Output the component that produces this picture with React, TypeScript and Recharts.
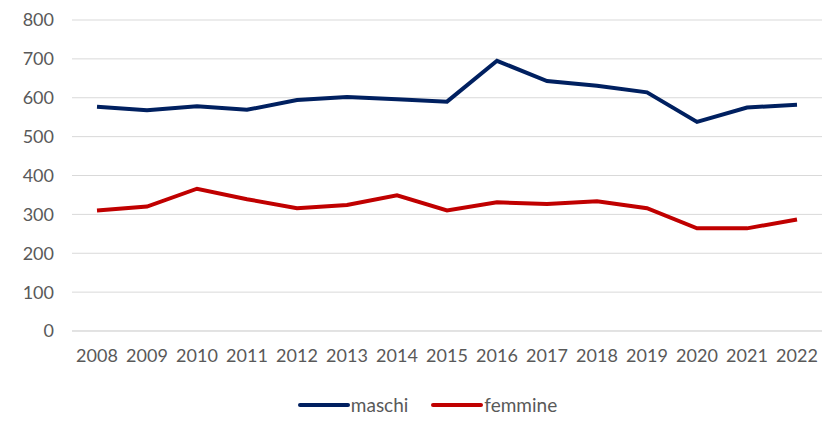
import { LineChart, Line, XAxis, YAxis, CartesianGrid, Legend } from "recharts";

const anni = ["2008", "2009", "2010", "2011", "2012", "2013", "2014", "2015", "2016", "2017", "2018", "2019", "2020", "2021", "2022"];
const maschi = [577, 568, 578, 569, 594, 602, 596, 590, 695, 643, 631, 614, 538, 575, 582];
const femmine = [310, 320, 366, 339, 316, 324, 349, 310, 331, 327, 334, 316, 264, 264, 287];
const yTicks = [0, 100, 200, 300, 400, 500, 600, 700, 800];
const serie = ["maschi", "femmine"];

const data = anni.map((anno, i) => ({ anno, maschi: maschi[i], femmine: femmine[i] }));

const FONT = "Lato, 'Open Sans', sans-serif";
const TEXT = "#595959";

function LegendBox({ payload }: any) {
  const items = [...(payload || [])].sort((a: any, b: any) => serie.indexOf(a.value) - serie.indexOf(b.value));
  return (
    <div style={{ display: "flex", justifyContent: "center", gap: 22, paddingTop: 18, paddingLeft: 32, fontFamily: FONT, fontSize: 19, color: TEXT }}>
      {items.map((p: any) => (
        <div key={p.value} style={{ display: "flex", alignItems: "center" }}>
          <svg width={54} height={8}>
            <line x1={3} y1={4} x2={51} y2={4} stroke={p.color} strokeWidth={4} strokeLinecap="round" />
          </svg>
          <span>{p.value}</span>
        </div>
      ))}
    </div>
  );
}

export default function App() {
  return (
    <div style={{ position: "absolute", left: 0, top: 0, background: "#fff" }}>
      <LineChart width={832} height={422} data={data} margin={{ top: 20, right: 10, left: 0, bottom: 8 }}>
        <CartesianGrid vertical={false} stroke="#d9d9d9" strokeWidth={1} />
        <XAxis
          dataKey="anno"
          axisLine={{ stroke: "#d9d9d9" }}
          tickLine={false}
          tick={{ fill: TEXT, fontSize: 18, fontFamily: FONT }}
          tickMargin={12}
          height={44}
          interval={0}
          padding={{ left: 25, right: 25 }}
        />
        <YAxis
          domain={[0, 800]}
          ticks={yTicks}
          axisLine={false}
          tickLine={false}
          tick={{ fill: TEXT, fontSize: 18, fontFamily: FONT }}
          tickMargin={12}
          width={72}
        />
        <Legend verticalAlign="bottom" height={39} content={<LegendBox />} />
        <Line type="linear" dataKey="maschi" stroke="#002060" strokeWidth={4} dot={false} isAnimationActive={false} />
        <Line type="linear" dataKey="femmine" stroke="#C00000" strokeWidth={4} dot={false} isAnimationActive={false} />
      </LineChart>
    </div>
  );
}
